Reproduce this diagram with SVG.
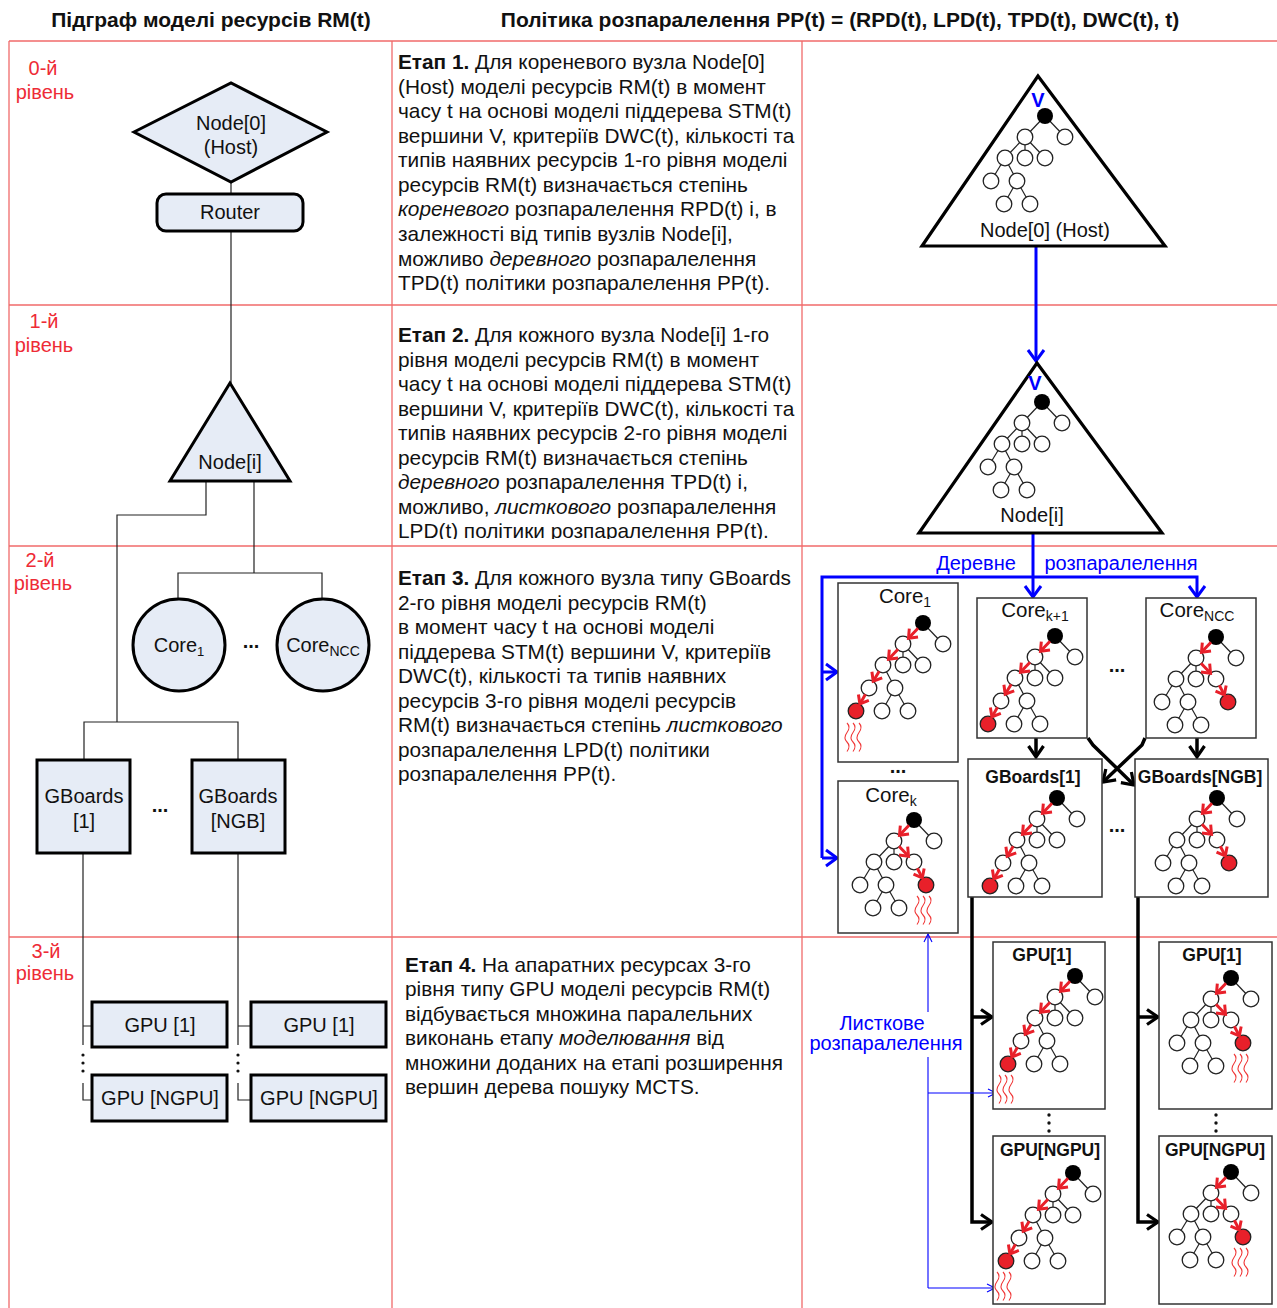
<svg xmlns="http://www.w3.org/2000/svg" xmlns:xlink="http://www.w3.org/1999/xlink" width="1277" height="1308" viewBox="0 0 1277 1308">
<style>
text{font-family:"Liberation Sans",Arial,sans-serif}
.hdr{font-size:21px;font-weight:bold;fill:#111;text-anchor:middle}
.lvl{font-size:20px;fill:#ee2b36;text-anchor:middle}
.body{font-size:20.8px;fill:#111}
.lbl{font-size:20px;fill:#111;text-anchor:middle}
.clbl{font-size:20.5px;fill:#111;text-anchor:middle}
.blbl{font-size:17.5px;font-weight:bold;fill:#111;text-anchor:middle}
.bluet{font-size:20px;fill:#0000ff;text-anchor:middle}
.grid{stroke:#f06a6a;stroke-width:1.3;fill:none}
.shape{fill:#e6ecf6;stroke:#000;stroke-width:3}
.conn{stroke:#222;stroke-width:1.2;fill:none}
.tri{fill:#fff;stroke:#000;stroke-width:3.2}
.box{fill:#fff;stroke:#333;stroke-width:1.5}
.blue{stroke:#0000ff;stroke-width:3;fill:none}
.bthin{stroke:#0000ff;stroke-width:1.1;fill:none}
.blk{stroke:#000;stroke-width:3.5;fill:none}
.e{stroke:#222;stroke-width:1.2}
.wn{fill:#fff;stroke:#222;stroke-width:1.3}
.bn{fill:#000}
.rn{fill:#e8202a;stroke:#222;stroke-width:1.3}
.red{stroke:#e8202a;stroke-width:3;fill:none}
.wave{fill:none;stroke:#f03838;stroke-width:1.1}
.dots{font-size:20px;font-weight:bold;fill:#111;text-anchor:middle}
</style>
<defs>
<marker id="ab" viewBox="-14 -10 16 20" refX="0" refY="0" markerWidth="16" markerHeight="20" markerUnits="userSpaceOnUse" orient="auto" style="overflow:visible">
<path d="M-11,-8 L0,0 L-11,8" fill="none" stroke="#0000ff" stroke-width="3"/>
</marker>
<marker id="ak" viewBox="-14 -10 16 20" refX="0" refY="0" markerWidth="16" markerHeight="20" markerUnits="userSpaceOnUse" orient="auto" style="overflow:visible">
<path d="M-11,-7.5 L0,0 L-11,7.5" fill="none" stroke="#000" stroke-width="3.2"/>
</marker>
<marker id="ar" viewBox="-10 -8 12 16" refX="0" refY="0" markerWidth="12" markerHeight="16" markerUnits="userSpaceOnUse" orient="auto" style="overflow:visible">
<path d="M-7.5,-6 L0,0 L-7.5,6" fill="none" stroke="#e8202a" stroke-width="3"/>
</marker>
<marker id="at" viewBox="-10 -6 12 12" refX="0" refY="0" markerWidth="12" markerHeight="12" markerUnits="userSpaceOnUse" orient="auto" style="overflow:visible">
<path d="M-8,-4 L0,0 L-8,4" fill="none" stroke="#0000ff" stroke-width="1.1"/>
</marker>
<g id="tb">
<line class="e" x1="0" y1="0" x2="-20" y2="21"/>
<line class="e" x1="0" y1="0" x2="20" y2="21"/>
<line class="e" x1="-20" y1="21" x2="-40" y2="42"/>
<line class="e" x1="-20" y1="21" x2="-20" y2="42"/>
<line class="e" x1="-20" y1="21" x2="0" y2="42"/>
<line class="e" x1="-40" y1="42" x2="-54" y2="65"/>
<line class="e" x1="-40" y1="42" x2="-28" y2="65"/>
<line class="e" x1="-28" y1="65" x2="-41" y2="88"/>
<line class="e" x1="-28" y1="65" x2="-15" y2="88"/>
<circle class="bn" cx="0" cy="0" r="8"/>
<circle class="wn" cx="-20" cy="21" r="7.8"/>
<circle class="wn" cx="20" cy="21" r="7.8"/>
<circle class="wn" cx="-40" cy="42" r="7.8"/>
<circle class="wn" cx="-20" cy="42" r="7.8"/>
<circle class="wn" cx="0" cy="42" r="7.8"/>
<circle class="wn" cx="-54" cy="65" r="7.8"/>
<circle class="wn" cx="-28" cy="65" r="7.8"/>
<circle class="wn" cx="-41" cy="88" r="7.8"/>
<circle class="wn" cx="-15" cy="88" r="7.8"/>
</g>
<g id="t1">
<line class="e" x1="-54" y1="65" x2="-67" y2="88"/>
<use xlink:href="#tb" href="#tb"/>
<circle class="rn" cx="-67" cy="88" r="7.8"/>
<path class="red" marker-end="url(#ar)" d="M-5,5.2 L-14.5,15.2"/>
<path class="red" marker-end="url(#ar)" d="M-25,26.2 L-34.5,36.2"/>
<path class="red" marker-end="url(#ar)" d="M-43.8,48.2 L-49.8,58.2"/>
<path class="red" marker-end="url(#ar)" d="M-57.5,71.2 L-63.1,81"/>
</g>
<g id="t2">
<line class="e" x1="0" y1="42" x2="12" y2="65"/>
<use xlink:href="#tb" href="#tb"/>
<circle class="rn" cx="12" cy="65" r="7.8"/>
<path class="red" marker-end="url(#ar)" d="M-5,5.2 L-14.5,15.2"/>
<path class="red" marker-end="url(#ar)" d="M-15,26.2 L-5.5,36.2"/>
<path class="red" marker-end="url(#ar)" d="M3.3,48.3 L8.3,57.9"/>
</g>
<g id="wv" class="wave">
<path d="M0,0 q4,4 0,9.5 t0,9.5 t0,9.5"/>
<path d="M6,0 q4,4 0,9.5 t0,9.5 t0,9.5"/>
<path d="M12,0 q4,4 0,9.5 t0,9.5 t0,9.5"/>
</g>
<clipPath id="c2"><rect x="392" y="305" width="410" height="234"/></clipPath>
</defs>

<rect width="1277" height="1308" fill="#fff"/>

<g id="headers">
<text class="hdr" x="211" y="27">Підграф моделі ресурсів RM(t)</text>
<text class="hdr" x="840" y="27">Політика розпаралелення PP(t) = (RPD(t), LPD(t), TPD(t), DWC(t), t)</text>
</g>

<g id="grid">
<line class="grid" x1="9" y1="41" x2="1277" y2="41"/>
<line class="grid" x1="9" y1="305" x2="1277" y2="305"/>
<line class="grid" x1="9" y1="546" x2="1277" y2="546"/>
<line class="grid" x1="9" y1="937" x2="1277" y2="937"/>
<line class="grid" x1="9" y1="41" x2="9" y2="1308"/>
<line class="grid" x1="392" y1="41" x2="392" y2="1308"/>
<line class="grid" x1="802" y1="41" x2="802" y2="1308"/>
</g>

<g id="levels">
<text class="lvl" x="43" y="75">0-й</text><text class="lvl" x="45" y="99">рівень</text>
<text class="lvl" x="44" y="328">1-й</text><text class="lvl" x="44" y="352">рівень</text>
<text class="lvl" x="40" y="567">2-й</text><text class="lvl" x="43" y="590">рівень</text>
<text class="lvl" x="46" y="958">3-й</text><text class="lvl" x="45" y="980">рівень</text>
</g>

<g id="connectors">
<path class="conn" d="M231,182 V194 M231,231 V383"/>
<path class="conn" d="M206,481 V515 H117 V722"/>
<path class="conn" d="M254,481 V573 M178,599 V573 H322 V599"/>
<path class="conn" d="M84,760 V722 H238 V760"/>
<path class="conn" d="M83,853 V1045 M83,1026 H92 M83,1083 V1100 H92"/>
<path class="conn" d="M238,853 V1045 M238,1026 H251 M238,1083 V1100 H251"/>
<g fill="#111">
<circle cx="83" cy="1055" r="1.6"/><circle cx="83" cy="1063" r="1.6"/><circle cx="83" cy="1071" r="1.6"/>
<circle cx="238" cy="1055" r="1.6"/><circle cx="238" cy="1063" r="1.6"/><circle cx="238" cy="1071" r="1.6"/>
<circle cx="1049" cy="1115" r="1.7"/><circle cx="1049" cy="1123" r="1.7"/><circle cx="1049" cy="1131" r="1.7"/>
<circle cx="1216" cy="1115" r="1.7"/><circle cx="1216" cy="1123" r="1.7"/><circle cx="1216" cy="1131" r="1.7"/>
</g>
<path class="blue" marker-end="url(#ab)" d="M1036,246 V361"/>
<path class="blue" marker-end="url(#ab)" d="M1033,533 V597"/>
<path class="blue" marker-end="url(#ab)" d="M822,858 V577 H1197 V597"/>
<path class="blue" marker-end="url(#ab)" d="M822,672 H837"/>
<path class="blue" marker-end="url(#ab)" d="M822,858 H837"/>
<path class="blk" marker-end="url(#ak)" d="M1036,738 V757"/>
<path class="blk" marker-end="url(#ak)" d="M1197,738 V757"/>
<path class="blk" marker-end="url(#ak)" d="M1088,738 L1093,745 L1134,785"/>
<path class="blk" marker-end="url(#ak)" d="M1145,738 L1142,745 L1103,782"/>
<path class="blk" marker-end="url(#ak)" d="M972,897 V1222 H992"/>
<path class="blk" marker-end="url(#ak)" d="M972,1017 H992"/>
<path class="blk" marker-end="url(#ak)" d="M1138,897 V1222 H1158"/>
<path class="blk" marker-end="url(#ak)" d="M1138,1017 H1158"/>
<path class="bthin" marker-end="url(#at)" d="M928,1012 V934"/>
<path class="bthin" d="M928,1057 V1288"/>
<path class="bthin" marker-end="url(#at)" d="M928,1093 H996"/>
<path class="bthin" marker-end="url(#at)" d="M928,1288 H995"/>
</g>

<g id="node-host">
<polygon class="shape" points="134,132 231,83 327,132 231,182"/>
<text class="lbl" x="231" y="130">Node[0]</text>
<text class="lbl" x="231" y="154">(Host)</text>
</g>
<g id="node-router">
<rect class="shape" x="157" y="194" width="146" height="37" rx="9"/>
<text class="lbl" x="230" y="219">Router</text>
</g>
<g id="node-nodei">
<polygon class="shape" points="230,383 170,481 290,481"/>
<text class="lbl" x="230" y="469">Node[i]</text>
</g>
<g id="node-core1">
<circle class="shape" cx="179" cy="645" r="46"/>
<text class="lbl" x="179" y="652">Core<tspan font-size="13" dy="4">1</tspan></text>
</g>
<g id="node-corencc">
<circle class="shape" cx="323" cy="645" r="46"/>
<text class="lbl" x="323" y="652">Core<tspan font-size="14" dy="4">NCC</tspan></text>
</g>
<text class="dots" x="251" y="648">...</text>
<g id="node-gb1">
<rect class="shape" x="37" y="760" width="93" height="93"/>
<text class="lbl" x="84" y="803">GBoards</text>
<text class="lbl" x="84" y="828">[1]</text>
</g>
<g id="node-gbn">
<rect class="shape" x="192" y="760" width="93" height="93"/>
<text class="lbl" x="238" y="803">GBoards</text>
<text class="lbl" x="238" y="828">[NGB]</text>
</g>
<text class="dots" x="160" y="812">...</text>
<g id="node-gpu1a"><rect class="shape" x="92" y="1002" width="135" height="45"/><text class="lbl" x="160" y="1032">GPU [1]</text></g>
<g id="node-gpu1b"><rect class="shape" x="251" y="1002" width="135" height="45"/><text class="lbl" x="319" y="1032">GPU [1]</text></g>
<g id="node-gpuna"><rect class="shape" x="92" y="1075" width="135" height="46"/><text class="lbl" x="160" y="1105">GPU [NGPU]</text></g>
<g id="node-gpunb"><rect class="shape" x="251" y="1075" width="135" height="46"/><text class="lbl" x="319" y="1105">GPU [NGPU]</text></g>

<g id="stage1" class="body">
<text x="398" y="69"><tspan font-weight="bold">Етап 1.</tspan> Для кореневого вузла Node[0]</text>
<text x="398" y="93.6">(Host) моделі ресурсів RM(t) в момент</text>
<text x="398" y="118.1">часу t на основі моделі піддерева STM(t)</text>
<text x="398" y="142.7">вершини V, критеріїв DWC(t), кількості та</text>
<text x="398" y="167.2">типів наявних ресурсів 1-го рівня моделі</text>
<text x="398" y="191.8">ресурсів RM(t) визначається степінь</text>
<text x="398" y="216.4"><tspan font-style="italic">кореневого</tspan> розпаралелення RPD(t) і, в</text>
<text x="398" y="240.9">залежності від типів вузлів Node[i],</text>
<text x="398" y="265.5">можливо <tspan font-style="italic">деревного</tspan> розпаралелення</text>
<text x="398" y="290">TPD(t) політики розпаралелення PP(t).</text>
</g>
<g id="stage2" class="body" clip-path="url(#c2)">
<text x="398" y="342"><tspan font-weight="bold">Етап 2.</tspan> Для кожного вузла Node[i] 1-го</text>
<text x="398" y="366.5">рівня моделі ресурсів RM(t) в момент</text>
<text x="398" y="391">часу t на основі моделі піддерева STM(t)</text>
<text x="398" y="415.5">вершини V, критеріїв DWC(t), кількості та</text>
<text x="398" y="440">типів наявних ресурсів 2-го рівня моделі</text>
<text x="398" y="464.5">ресурсів RM(t) визначається степінь</text>
<text x="398" y="489"><tspan font-style="italic">деревного</tspan> розпаралелення TPD(t) і,</text>
<text x="398" y="513.5">можливо, <tspan font-style="italic">листкового</tspan> розпаралелення</text>
<text x="398" y="538">LPD(t) політики розпаралелення PP(t).</text>
</g>
<g id="stage3" class="body">
<text x="398" y="585"><tspan font-weight="bold">Етап 3.</tspan> Для кожного вузла типу GBoards</text>
<text x="398" y="609.5">2-го рівня моделі ресурсів RM(t)</text>
<text x="398" y="634">в момент часу t на основі моделі</text>
<text x="398" y="658.5">піддерева STM(t) вершини V, критеріїв</text>
<text x="398" y="683">DWC(t), кількості та типів наявних</text>
<text x="398" y="707.5">ресурсів 3-го рівня моделі ресурсів</text>
<text x="398" y="732">RM(t) визначається степінь <tspan font-style="italic">листкового</tspan></text>
<text x="398" y="756.5">розпаралелення LPD(t) політики</text>
<text x="398" y="781">розпаралелення PP(t).</text>
</g>
<g id="stage4" class="body">
<text x="405" y="972"><tspan font-weight="bold">Етап 4.</tspan> На апаратних ресурсах 3-го</text>
<text x="405" y="996.4">рівня типу GPU моделі ресурсів RM(t)</text>
<text x="405" y="1020.8">відбувається множина паралельних</text>
<text x="405" y="1045.2">виконань етапу <tspan font-style="italic">моделювання</tspan> від</text>
<text x="405" y="1069.6">множини доданих на етапі розширення</text>
<text x="405" y="1094">вершин дерева пошуку MCTS.</text>
</g>

<g id="tree-host">
<polygon class="tri" points="1038,76 922,246 1165,246"/>
<text x="1038" y="107" font-size="20" font-weight="bold" fill="#0000ff" text-anchor="middle">V</text>
<use xlink:href="#tb" href="#tb" x="1045" y="116"/>
<text class="lbl" x="1045" y="237">Node[0] (Host)</text>
</g>
<g id="tree-nodei">
<polygon class="tri" points="1037,363 919,533 1162,533"/>
<text x="1035" y="390" font-size="20" font-weight="bold" fill="#0000ff" text-anchor="middle">V</text>
<use xlink:href="#tb" href="#tb" x="1042" y="402"/>
<text class="lbl" x="1032" y="522">Node[i]</text>
</g>
<text class="bluet" x="976" y="570">Деревне</text>
<text class="bluet" x="1121" y="570">розпаралелення</text>

<g id="box-core1">
<rect class="box" x="838" y="583" width="120" height="179"/>
<text class="clbl" x="905" y="603">Core<tspan font-size="14" dy="4">1</tspan></text>
<use xlink:href="#t1" href="#t1" x="923" y="623"/>
<use xlink:href="#wv" href="#wv" x="847" y="723"/>
</g>
<text class="dots" x="898" y="773">...</text>
<g id="box-corek">
<rect class="box" x="838" y="781" width="120" height="152"/>
<text class="clbl" x="891" y="802">Core<tspan font-size="14" dy="4">k</tspan></text>
<use xlink:href="#t2" href="#t2" x="914" y="820"/>
<use xlink:href="#wv" href="#wv" x="917" y="896"/>
</g>
<g id="box-corek1">
<rect class="box" x="977" y="598" width="110" height="140"/>
<text class="clbl" x="1035" y="617">Core<tspan font-size="14" dy="4">k+1</tspan></text>
<use xlink:href="#t1" href="#t1" x="1055" y="636"/>
</g>
<text class="dots" x="1117" y="672">...</text>
<g id="box-corencc">
<rect class="box" x="1146" y="598" width="110" height="140"/>
<text class="clbl" x="1197" y="617">Core<tspan font-size="14" dy="4">NCC</tspan></text>
<use xlink:href="#t2" href="#t2" x="1216" y="637"/>
</g>
<g id="box-gb1">
<rect class="box" x="968" y="759" width="134" height="138"/>
<text class="blbl" x="1033" y="783">GBoards[1]</text>
<use xlink:href="#t1" href="#t1" x="1057" y="798"/>
</g>
<text class="dots" x="1117" y="832">...</text>
<g id="box-gbn">
<rect class="box" x="1135" y="759" width="133" height="138"/>
<text class="blbl" x="1200" y="783">GBoards[NGB]</text>
<use xlink:href="#t2" href="#t2" x="1217" y="798"/>
</g>
<g id="box-gpu1a">
<rect class="box" x="993" y="942" width="112" height="167"/>
<text class="blbl" x="1042" y="961">GPU[1]</text>
<use xlink:href="#t1" href="#t1" x="1075" y="976"/>
<use xlink:href="#wv" href="#wv" x="999" y="1075"/>
</g>
<g id="box-gpu1b">
<rect class="box" x="1159" y="942" width="113" height="167"/>
<text class="blbl" x="1212" y="961">GPU[1]</text>
<use xlink:href="#t2" href="#t2" x="1231" y="978"/>
<use xlink:href="#wv" href="#wv" x="1234" y="1054"/>
</g>
<g id="box-gpuna">
<rect class="box" x="993" y="1136" width="112" height="168"/>
<text class="blbl" x="1050" y="1156">GPU[NGPU]</text>
<use xlink:href="#t1" href="#t1" x="1073" y="1173"/>
<use xlink:href="#wv" href="#wv" x="997" y="1272"/>
</g>
<g id="box-gpunb">
<rect class="box" x="1159" y="1136" width="113" height="168"/>
<text class="blbl" x="1215" y="1156">GPU[NGPU]</text>
<use xlink:href="#t2" href="#t2" x="1231" y="1172"/>
<use xlink:href="#wv" href="#wv" x="1234" y="1248"/>
</g>
<text class="bluet" x="882" y="1030">Листкове</text>
<text class="bluet" x="886" y="1050">розпаралелення</text>
</svg>
